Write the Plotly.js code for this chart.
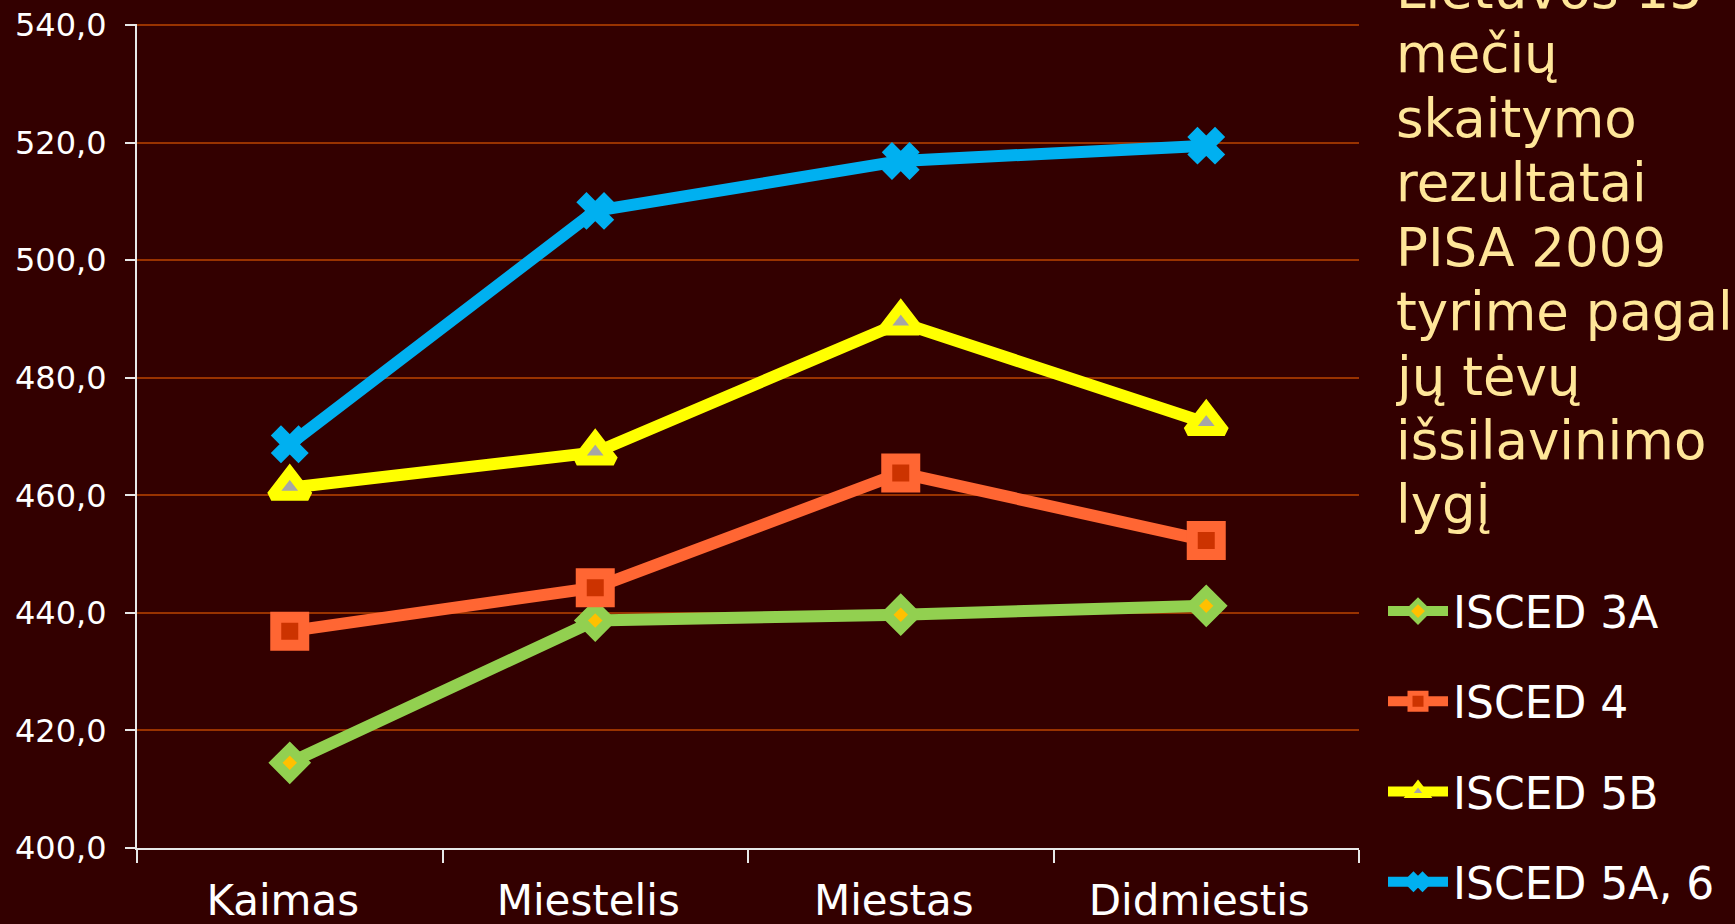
<!DOCTYPE html>
<html>
<head>
<meta charset="utf-8">
<script src="https://cdn.plot.ly/plotly-3.0.1.min.js"></script>
<style>html,body{margin:0;padding:0;background:#330000;}</style>
</head>
<body>
<div id="chart" style="width:1735px;height:924px;"></div>
<script>
// ---- data ----
const categories = ['Kaimas', 'Miestelis', 'Miestas', 'Didmiestis'];
const seriesNames = ['ISCED 3A', 'ISCED 4', 'ISCED 5B', 'ISCED 5A, 6'];
const isced3A  = [414.5, 438.7, 439.7, 441.2];
const isced4   = [436.9, 444.3, 463.8, 452.3];
const isced5B  = [461.3, 467.3, 489.4, 472.3];
const isced5A6 = [468.7, 508.4, 516.9, 519.5];
const yTickValues = [400, 420, 440, 460, 480, 500, 520, 540];
const titleLines = ['Lietuvos 15', 'mečių', 'skaitymo', 'rezultatai', 'PISA 2009',
                    'tyrime pagal', 'jų tėvų', 'išsilavinimo', 'lygį'];

// ---- layout geometry ----
const W = 1735, H = 924;
const M = {l: 137, r: 376, t: 24, b: 76};
const plotH = H - M.t - M.b;
const plotW = W - M.l - M.r;
const pxToPaperY = py => (H - M.b - py) / plotH;
const pxToPaperX = px => (px - M.l) / plotW;

const FONT = 'DejaVu Sans, Verdana, sans-serif';

const styles = [
  {line: '#92D050', symbol: 'diamond',     size: 22, fill: '#FFC000', mlw: 10},
  {line: '#FF6633', symbol: 'square',      size: 28, fill: '#CC3300', mlw: 11},
  {line: '#FFFF00', symbol: 'triangle-up', size: 32, fill: '#A6A6A6', mlw: 10},
  {line: '#00B0F0', symbol: 'x',           size: 31, fill: '#00B0F0', mlw: 2}
];
const seriesValues = [isced3A, isced4, isced5B, isced5A6];

const traces = seriesValues.map((vals, i) => ({
  type: 'scatter',
  mode: 'lines+markers',
  x: categories,
  y: vals,
  name: seriesNames[i],
  legendgroup: 'g' + i,
  line: {color: styles[i].line, width: 12},
  marker: {
    symbol: styles[i].symbol,
    size: styles[i].size,
    color: styles[i].fill,
    line: {color: styles[i].line, width: styles[i].mlw}
  },
  cliponaxis: false,
  hoverinfo: 'x+y+name'
}));

const annotations = titleLines.map((t, i) => ({
  text: t,
  xref: 'paper', yref: 'paper',
  x: pxToPaperX(1394), xanchor: 'left',
  y: pxToPaperY(-10.4 + 64.4 * i), yanchor: 'middle',
  showarrow: false,
  font: {family: FONT, size: 53, color: '#FFE699'}
}));

const layout = {
  width: W, height: H,
  margin: M,
  paper_bgcolor: '#330000',
  plot_bgcolor: '#330000',
  separators: ', ',
  showlegend: true,
  legend: {
    xref: 'container', yref: 'container',
    x: 1383 / W, xanchor: 'left',
    y: (H - 576) / H, yanchor: 'top',
    font: {family: FONT, size: 44, color: '#FFFFFF'},
    bgcolor: 'rgba(0,0,0,0)',
    itemwidth: 60,
    tracegroupgap: 30,
    traceorder: 'grouped'
  },
  xaxis: {
    type: 'category',
    range: [-0.5, 3.5],
    tickson: 'boundaries',
    ticks: 'outside', ticklen: 13, tickwidth: 2, tickcolor: '#E8E8E8',
    showline: true, linecolor: '#E8E8E8', linewidth: 2,
    showgrid: false, zeroline: false,
    automargin: false,
    ticklabelstandoff: 15,
    ticklabelshift: -7,
    tickfont: {family: FONT, size: 42, color: '#FFFFFF'},
    fixedrange: true
  },
  yaxis: {
    range: [400, 540.2],
    tickmode: 'array', tickvals: yTickValues,
    tickformat: '.1f',
    ticks: 'outside', ticklen: 10, tickwidth: 2, tickcolor: '#E8E8E8',
    showline: true, linecolor: '#E8E8E8', linewidth: 2,
    showgrid: true, gridcolor: '#993300', gridwidth: 2,
    zeroline: false,
    automargin: false,
    ticklabelstandoff: 12,
    tickfont: {family: FONT, size: 32, color: '#FFFFFF'},
    fixedrange: true
  },
  annotations: annotations
};

Plotly.newPlot('chart', traces, layout, {displayModeBar: false, staticPlot: true});
</script>
</body>
</html>
